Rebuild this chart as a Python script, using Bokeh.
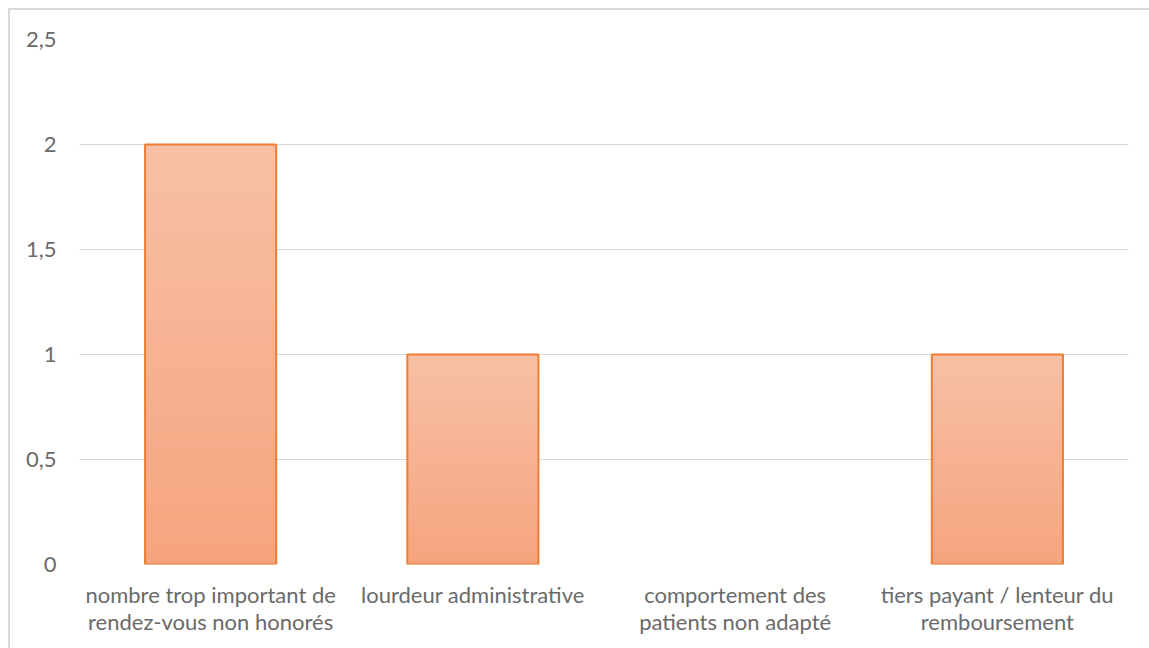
from bokeh.plotting import figure
from bokeh.models import FactorRange, Range1d, FixedTicker
from bokeh.embed import file_html
from bokeh.resources import INLINE

categories = [
    "nombre trop important de\nrendez-vous non honorés",
    "lourdeur administrative",
    "comportement des\npatients non adapté",
    "tiers payant / lenteur du\nremboursement",
]
values = [2, 1, 0, 1]
y_ticks = [0, 0.5, 1, 1.5, 2, 2.5]
y_tick_labels = ["0", "0,5", "1", "1,5", "2", "2,5"]

FONT = "Lato"
TXT = "#6A6A6A"
GRID = "#D9D9D9"

p = figure(
    x_range=FactorRange(*categories, range_padding=0),
    y_range=Range1d(0, 2.5),
    width=1149, height=648,
    output_backend="svg", toolbar_location=None,
    min_border_left=79, min_border_right=21, min_border_top=39, min_border_bottom=84,
)
p.styles = {
    "background-image": "linear-gradient(#D9D9D9,#D9D9D9), linear-gradient(#D9D9D9,#D9D9D9)",
    "background-size": "2px 100%, 100% 2px",
    "background-position": "8px 8px, 8px 8px",
    "background-repeat": "no-repeat",
}
p.outline_line_color = None
p.background_fill_color = "white"
p.border_fill_color = None

# gradient fill via stacked strips
top_rgb = (0xF7, 0xC0, 0xA6)
bot_rgb = (0xF6, 0xA4, 0x7E)
n = 40
for cat, v in zip(categories, values):
    if v <= 0:
        continue
    xs, bots, tops, cols = [], [], [], []
    for i in range(n):
        t = (i + 0.5) / n
        c = tuple(int(round(b + (a - b) * t)) for a, b in zip(top_rgb, bot_rgb))
        xs.append(cat)
        bots.append(v * i / n)
        tops.append(v * min(i + 1.6, n) / n)
        cols.append("#%02X%02X%02X" % c)
    p.vbar(x=xs, bottom=bots, top=tops, width=0.5, fill_color=cols, line_color=None)

p.vbar(x=categories, top=values, width=0.5, fill_color=None,
       line_color="#ED7D31", line_width=2,
       line_alpha=[1.0 if v > 0 else 0.0 for v in values])

p.xgrid.grid_line_color = None
p.ygrid.grid_line_color = GRID
p.ygrid.grid_line_width = 1
p.ygrid.ticker = FixedTicker(ticks=y_ticks)

p.yaxis.ticker = FixedTicker(ticks=y_ticks)
p.yaxis.major_label_overrides = {t: l for t, l in zip(y_ticks, y_tick_labels)}
for ax in (p.xaxis, p.yaxis):
    ax.axis_line_color = None
    ax.major_tick_line_color = None
    ax.minor_tick_line_color = None
    ax.major_tick_out = 0
    ax.major_tick_in = 0
    ax.minor_tick_out = 0
    ax.major_label_text_font = FONT
    ax.major_label_text_font_size = "22px"
    ax.major_label_text_color = TXT
p.xaxis.major_label_text_line_height = 1.0
p.yaxis.major_label_standoff = 23
p.xaxis.major_label_standoff = 16

open("out.html", "w").write(file_html(p, INLINE))
